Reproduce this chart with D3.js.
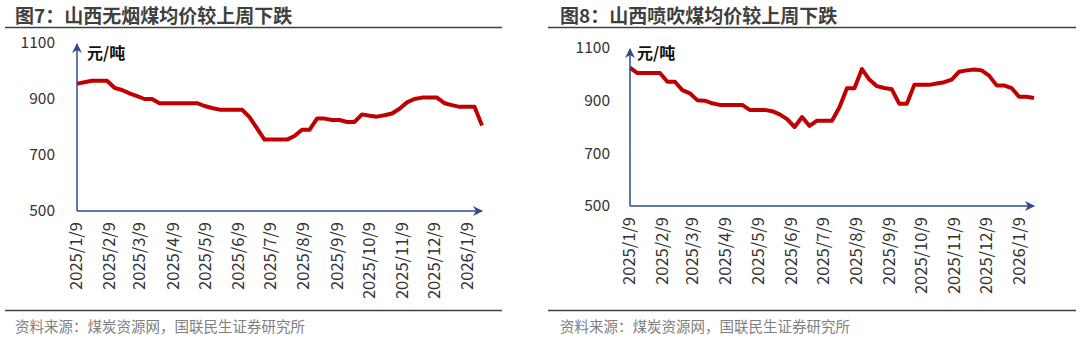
<!DOCTYPE html>
<html><head><meta charset="utf-8">
<script src="https://cdn.jsdelivr.net/npm/d3@7"></script>
<style>
html,body{margin:0;padding:0;background:#fff;}
svg{display:block;font-family:"Noto Sans CJK SC","Noto Sans",sans-serif;}
</style></head>
<body><svg id="c" width="1080" height="339"></svg>
<script>
const dates = ["2025-01-09","2025-01-16","2025-01-23","2025-01-30","2025-02-06","2025-02-13","2025-02-20","2025-02-27",
"2025-03-06","2025-03-13","2025-03-20","2025-03-27","2025-04-03","2025-04-10","2025-04-17","2025-04-24",
"2025-05-01","2025-05-08","2025-05-15","2025-05-22","2025-05-29","2025-06-05","2025-06-12","2025-06-19","2025-06-26",
"2025-07-03","2025-07-10","2025-07-17","2025-07-24","2025-07-31","2025-08-07","2025-08-14","2025-08-21","2025-08-28",
"2025-09-04","2025-09-11","2025-09-18","2025-09-25","2025-10-02","2025-10-09","2025-10-16","2025-10-23","2025-10-30",
"2025-11-06","2025-11-13","2025-11-20","2025-11-27","2025-12-04","2025-12-11","2025-12-18","2025-12-25",
"2026-01-01","2026-01-08","2026-01-15","2026-01-22"];
const anthracite = [955,960,965,965,965,940,932,920,910,900,900,885,885,885,885,885,885,875,868,862,862,862,862,835,795,
755,755,755,755,768,790,790,830,830,825,825,818,818,845,840,837,842,848,865,888,900,905,905,905,885,878,872,872,872,805];
const pci = [1025,1005,1005,1005,1005,972,972,940,928,902,900,890,884,884,884,884,865,865,865,860,848,830,800,838,804,
824,824,824,875,947,947,1020,980,955,948,943,888,888,960,960,960,965,970,980,1010,1015,1018,1015,995,958,958,948,915,915,910];
const tickDates = ["2025-01-09","2025-02-09","2025-03-09","2025-04-09","2025-05-09","2025-06-09","2025-07-09",
"2025-08-09","2025-09-09","2025-10-09","2025-11-09","2025-12-09","2026-01-09"];
const tickLabels = ["2025/1/9","2025/2/9","2025/3/9","2025/4/9","2025/5/9","2025/6/9","2025/7/9",
"2025/8/9","2025/9/9","2025/10/9","2025/11/9","2025/12/9","2026/1/9"];
const yTicks = [500,700,900,1100];
const titles = ["图7：山西无烟煤均价较上周下跌","图8：山西喷吹煤均价较上周下跌"];
const unitLabel = "元/吨";
const sourceText = "资料来源：煤炭资源网，国联民生证券研究所";

const parse = d3.timeParse("%Y-%m-%d");
const svg = d3.select("#c");
const axisColor = "#2f4b8a";
const lineColor = "#c00000";

svg.append("defs").append("marker").attr("id","arr").attr("viewBox","0 0 10 10")
  .attr("refX",9).attr("refY",5).attr("markerWidth",10).attr("markerHeight",10)
  .attr("markerUnits","userSpaceOnUse").attr("orient","auto")
  .append("path").attr("d","M0,0 L10,5 L0,10 L3,5 Z").attr("fill",axisColor);

function panel(cfg, values, title){
  const g = svg.append("g");
  g.append("text").attr("x",cfg.tx).attr("y",22.5).attr("font-size",19).attr("font-weight","bold")
    .attr("fill","#404040").text(title);
  g.append("line").attr("x1",cfg.lx1).attr("x2",cfg.lx2).attr("y1",27.5).attr("y2",27.5)
    .attr("stroke","#404040").attr("stroke-width",1.5);
  g.append("line").attr("x1",cfg.lx1).attr("x2",cfg.lx2).attr("y1",310.5).attr("y2",310.5)
    .attr("stroke","#404040").attr("stroke-width",1.5);
  g.append("text").attr("x",cfg.tx).attr("y",332).attr("font-size",14.5).attr("fill","#808080").text(sourceText);

  const x = d3.scaleTime().domain([parse(dates[0]), parse(dates[dates.length-1])]).range([cfg.x0, cfg.x1]);
  const y = d3.scaleLinear().domain([500,1100]).range([cfg.y0, cfg.y1]);

  const ya = d3.axisLeft(y).tickValues(yTicks).tickSize(0).tickPadding(0).tickFormat(d3.format("d"));
  const yg = g.append("g").attr("transform",`translate(${cfg.ylabX},0)`).call(ya);
  yg.select(".domain").remove();
  yg.selectAll("text").attr("font-size",15.5).attr("fill","#333").attr("font-family","'Noto Sans CJK SC',sans-serif");

  const xa = d3.axisBottom(x).tickValues(tickDates.map(parse)).tickSize(0)
    .tickFormat((d,i)=>tickLabels[i]);
  const xg = g.append("g").attr("transform",`translate(0,${cfg.y0})`).call(xa);
  xg.select(".domain").remove();
  xg.selectAll("text").attr("font-size",16.5).attr("fill","#333")
    .attr("font-family","'Noto Sans CJK SC',sans-serif")
    .attr("transform","rotate(-90)").attr("text-anchor","end")
    .attr("x",-11).attr("y",-1).attr("dy","0.35em");

  const line = d3.line().x((d,i)=>x(parse(dates[i]))).y(d=>y(d));
  g.append("path").datum(values).attr("d",line).attr("fill","none")
    .attr("stroke",lineColor).attr("stroke-width",4).attr("stroke-linejoin","round");

  g.append("line").attr("x1",cfg.x0).attr("x2",cfg.x0).attr("y1",cfg.y0).attr("y2",y(1100)+1)
    .attr("stroke",axisColor).attr("stroke-width",1.5).attr("marker-end","url(#arr)");
  g.append("line").attr("x1",cfg.x0).attr("x2",cfg.x1).attr("y1",cfg.y0).attr("y2",cfg.y0)
    .attr("stroke",axisColor).attr("stroke-width",1.5).attr("marker-end","url(#arr)");

  g.append("text").attr("x",cfg.ux).attr("y",59).attr("font-size",16).attr("font-weight","bold")
    .attr("fill","#111").text(unitLabel);
}

panel({tx:15,lx1:5,lx2:502,x0:77,x1:482,y0:211,y1:43,ylabX:55,ux:87}, anthracite, titles[0]);
panel({tx:560,lx1:548,lx2:1076,x0:630,x1:1034,y0:206,y1:48,ylabX:610,ux:637}, pci, titles[1]);
</script></body></html>
